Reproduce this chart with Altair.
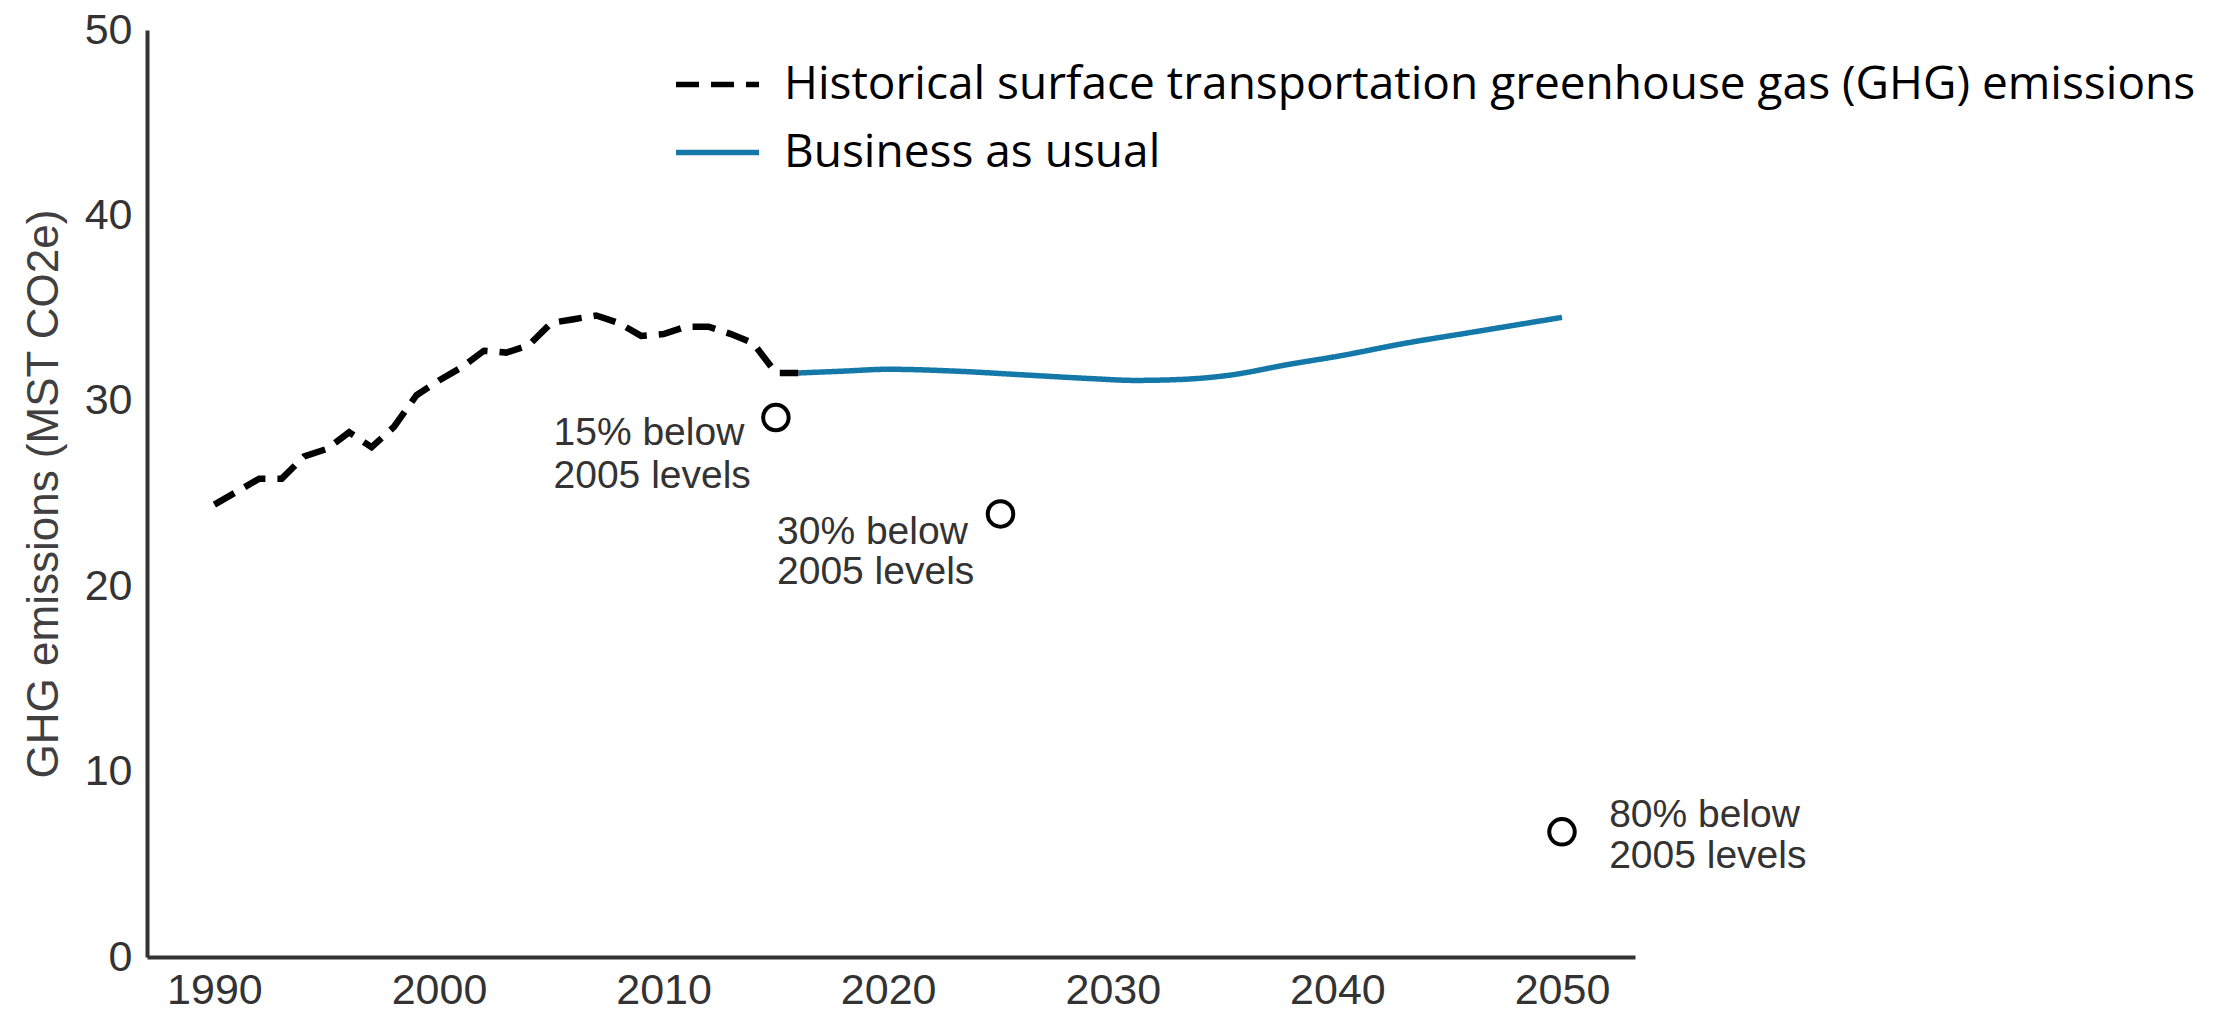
import altair as alt
import pandas as pd

# ---- data ----
hist_name = "Historical surface transportation greenhouse gas (GHG) emissions"
bau_name = "Business as usual"

hist_years = list(range(1990, 2017))
hist_values = [24.4, 25.1, 25.8, 25.8, 27.0, 27.4, 28.3, 27.5, 28.6, 30.3,
               31.1, 31.8, 32.7, 32.6, 33.0, 34.2, 34.4, 34.6, 34.2, 33.5,
               33.6, 34.0, 34.0, 33.6, 33.1, 31.5, 31.5]

bau_years = [2016, 2018, 2020, 2023, 2026, 2029, 2031, 2033, 2035, 2038,
             2040, 2043, 2046, 2048, 2050]
bau_values = [31.5, 31.6, 31.7, 31.6, 31.4, 31.2, 31.1, 31.15, 31.35, 32.0,
              32.4, 33.1, 33.7, 34.1, 34.5]

target_years = [2015, 2025, 2050]
target_values = [29.1, 23.9, 6.75]

ann_text = ["15% below", "2005 levels", "30% below", "2005 levels",
            "80% below", "2005 levels"]
ann_x = [2005.1, 2005.1, 2015.05, 2015.05, 2052.1, 2052.1]
ann_y = [27.6, 25.3, 22.3, 20.1, 7.0, 4.8]

x_ticks = [1990, 2000, 2010, 2020, 2030, 2040, 2050]
y_ticks = [0, 10, 20, 30, 40, 50]

# ---- tables ----
hist_df = pd.DataFrame({"year": hist_years, "value": hist_values, "series": hist_name})
bau_df = pd.DataFrame({"year": bau_years, "value": bau_values, "series": bau_name})
targets_df = pd.DataFrame({"year": target_years, "value": target_values})
ann_df = pd.DataFrame({"year": ann_x, "value": ann_y, "label": ann_text})

x_scale = alt.Scale(domain=[1987.0, 2053.25], nice=False, zero=False)
y_scale = alt.Scale(domain=[0, 50], nice=False)

x_axis = alt.Axis(values=x_ticks, format="d", title=None, grid=False, ticks=False,
                  labelFont="Liberation Sans", labelFontSize=43, labelColor="#333333",
                  labelPadding=12, domainColor="#333333", domainWidth=4,
                  labelFlush=False)
y_axis = alt.Axis(values=y_ticks, title="GHG emissions (MST CO2e)", grid=False,
                  ticks=False, labelFont="Liberation Sans", labelFontSize=43,
                  labelColor="#333333", labelPadding=15, domainColor="#333333",
                  domainWidth=4, titleFont="Liberation Sans", titleFontSize=44,
                  titleFontWeight="normal", titleColor="#404040", titlePadding=18,
                  labelFlush=False)

legend_kw = dict(title=None, orient="none", legendX=526, legendY=10,
                 symbolType="stroke", symbolSize=6889, symbolStrokeWidth=5.5,
                 labelFont="Open Sans", labelFontSize=46, labelColor="#000000",
                 labelLimit=3000, labelOffset=22, rowPadding=-4, padding=0)

color_enc = alt.Color("series:N",
                      scale=alt.Scale(domain=[hist_name, bau_name],
                                      range=["#000000", "#1479a9"]),
                      legend=alt.Legend(**legend_kw))
dash_enc = alt.StrokeDash("series:N",
                          scale=alt.Scale(domain=[hist_name, bau_name],
                                          range=[[23, 12], [1, 0]]),
                          legend=alt.Legend(**legend_kw))

hist_line = alt.Chart(hist_df).mark_line(strokeWidth=6.5, interpolate="linear").encode(
    x=alt.X("year:Q", scale=x_scale, axis=x_axis),
    y=alt.Y("value:Q", scale=y_scale, axis=y_axis),
    color=color_enc,
    strokeDash=dash_enc,
    order="year:Q",
)

bau_line = alt.Chart(bau_df).mark_line(strokeWidth=5.5, interpolate="monotone").encode(
    x=alt.X("year:Q", scale=x_scale),
    y=alt.Y("value:Q", scale=y_scale),
    color=color_enc,
    strokeDash=dash_enc,
    order="year:Q",
)

targets = alt.Chart(targets_df).mark_point(shape="circle", filled=False, size=650,
                                           strokeWidth=4, color="#000000",
                                           opacity=1).encode(
    x=alt.X("year:Q", scale=x_scale),
    y=alt.Y("value:Q", scale=y_scale),
)

annotations = alt.Chart(ann_df).mark_text(align="left", baseline="alphabetic",
                                          font="Liberation Sans", fontSize=39,
                                          color="#333333").encode(
    x=alt.X("year:Q", scale=x_scale),
    y=alt.Y("value:Q", scale=y_scale),
    text="label:N",
)

chart = alt.layer(bau_line, hist_line, targets, annotations).properties(
    width=1488, height=927,
    autosize=alt.AutoSizeParams(type="none"),
    padding={"left": 139, "top": 22, "right": 590, "bottom": 60},
).configure(background="white").configure_view(stroke=None, strokeWidth=0)

chart.save("out.html", embed_options={"renderer": "svg", "actions": False})
